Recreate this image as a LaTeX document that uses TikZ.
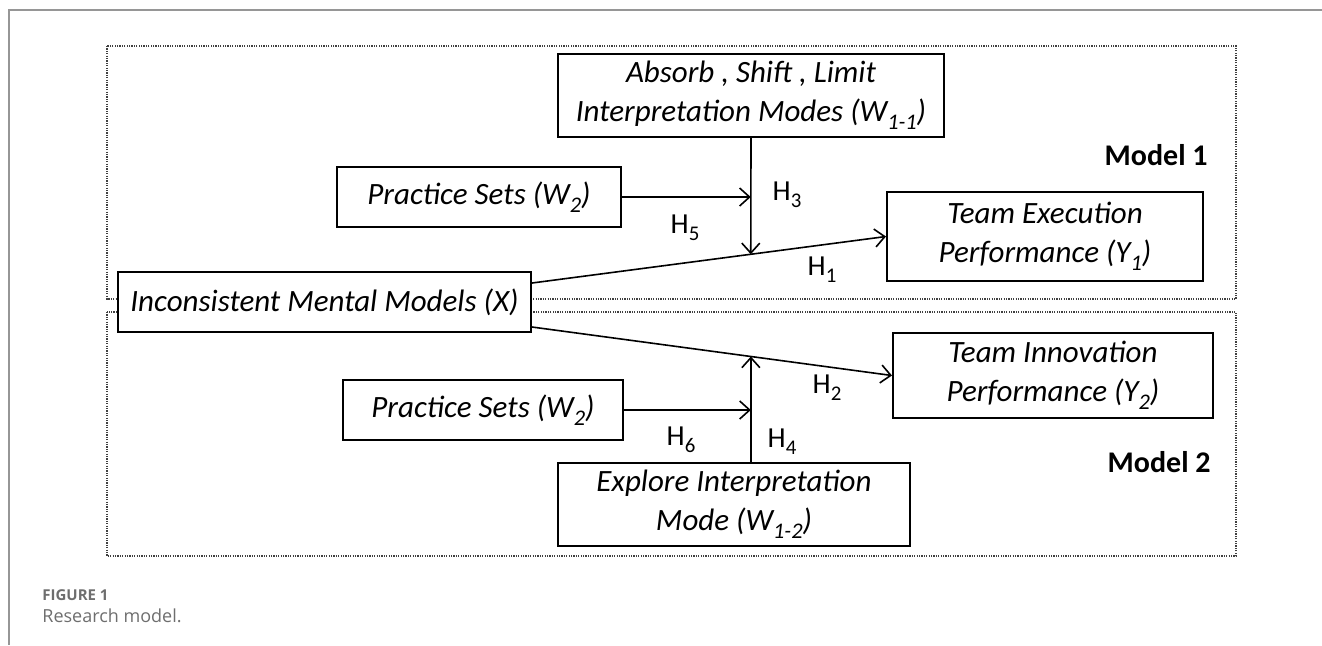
\documentclass[tikz,border=0pt]{standalone}
\usepackage{fontspec}
\setmainfont{Carlito}
\newfontfamily\capfont{Open Sans}
\usetikzlibrary{arrows.meta,calc,positioning}
\definecolor{framegray}{RGB}{150,150,150}
\definecolor{capgray}{RGB}{110,110,110}
\newcommand{\lowidx}[1]{\raisebox{-0.25em}{\scalebox{0.72}{#1}}}

\tikzset{
  varbox/.style={draw, line width=1pt, fill=white, align=center, inner sep=0pt,
    font=\fontsize{15.5}{19.5}\selectfont\itshape},
  modelbox/.style={draw=black!75, line width=0.6pt, dash pattern=on 0.6pt off 0.6pt},
  hyp/.style={inner sep=0pt, font=\fontsize{14.5}{17}\selectfont},
  modeltag/.style={anchor=east, inner sep=0pt, font=\fontsize{15}{18}\selectfont\bfseries},
  link/.style={line width=0.8pt, -{Straight Barb[length=5pt,width=9pt]}},
}

\begin{document}
\begin{tikzpicture}[x=0.5pt,y=-0.5pt]
    \useasboundingbox (0,0) rectangle (1322,645);
    % Frame
    \draw[framegray, line width=1pt] (1322,10) -- (9,10) -- (9,645);

    % Model blocks
    \draw[modelbox] (107,46) rectangle (1236,299);
    \draw[modelbox] (107,312) rectangle (1236,556);
    \node[modeltag] (mod1) at (1208,155) {Model 1};
    \node[modeltag] (mod2) at (1211,462) {Model 2};

    % Variables
    \node[varbox, minimum width=193pt, minimum height=41.5pt] (absorb) at (751,95.5)
        {Absorb , Shift , Limit\\Interpretation Modes (W\lowidx{1-1})};
    \node[varbox, minimum width=141.75pt, minimum height=30pt] (prac1) at (479,197)
        {Practice Sets (W\lowidx{2})};
    \node[varbox, minimum width=206.5pt, minimum height=30pt] (imm) at (324.5,302)
        {Inconsistent Mental Models (X)};
    \node[varbox, minimum width=158pt, minimum height=44.5pt] (exec) at (1045,236.5)
        {Team Execution\\Performance (Y\lowidx{1})};
    \node[varbox, minimum width=160pt, minimum height=42.5pt] (innov) at (1053,375.5)
        {Team Innovation\\Performance (Y\lowidx{2})};
    \node[varbox, minimum width=140pt, minimum height=30pt] (prac2) at (483,410)
        {Practice Sets (W\lowidx{2})};
    \node[varbox, minimum width=176pt, minimum height=41.5pt] (explore) at (734,504.5)
        {Explore Interpretation\\Mode (W\lowidx{1-2})};

    % Main paths
    \draw[link] ([yshift=9.5pt]imm.east) -- (exec.west)
        coordinate[pos=0.618] (cut1);
    \draw[link] ([yshift=-12.5pt]imm.east) -- (innov.west)
        coordinate[pos=0.608] (cut2);

    % Moderators
    \draw[link] (absorb.south) -- (cut1);
    \draw[link] (prac1.east) -- (prac1.east -| cut1);
    \draw[link] (explore.north -| cut2) -- (cut2);
    \draw[link] (prac2.east) -- (prac2.east -| cut2);

    % Hypotheses
    \node[hyp] (h1) at (822,270) {H\lowidx{1}};
    \node[hyp] (h2) at (827,388) {H\lowidx{2}};
    \node[hyp] (h3) at (787,195) {H\lowidx{3}};
    \node[hyp] (h4) at (782,442) {H\lowidx{4}};
    \node[hyp] (h5) at (685,228) {H\lowidx{5}};
    \node[hyp] (h6) at (681,440) {H\lowidx{6}};

    % Caption
    \node[anchor=west, inner sep=0pt, text=capgray, font=\capfont\bfseries\fontsize{7.5}{9}\selectfont]
        (fig) at (42,595) {FIGURE 1};
    \node[anchor=west, inner sep=0pt, text=capgray, font=\capfont\fontsize{9}{11}\selectfont]
        (cap) at (42,616) {Research model.};
\end{tikzpicture}
\end{document}
